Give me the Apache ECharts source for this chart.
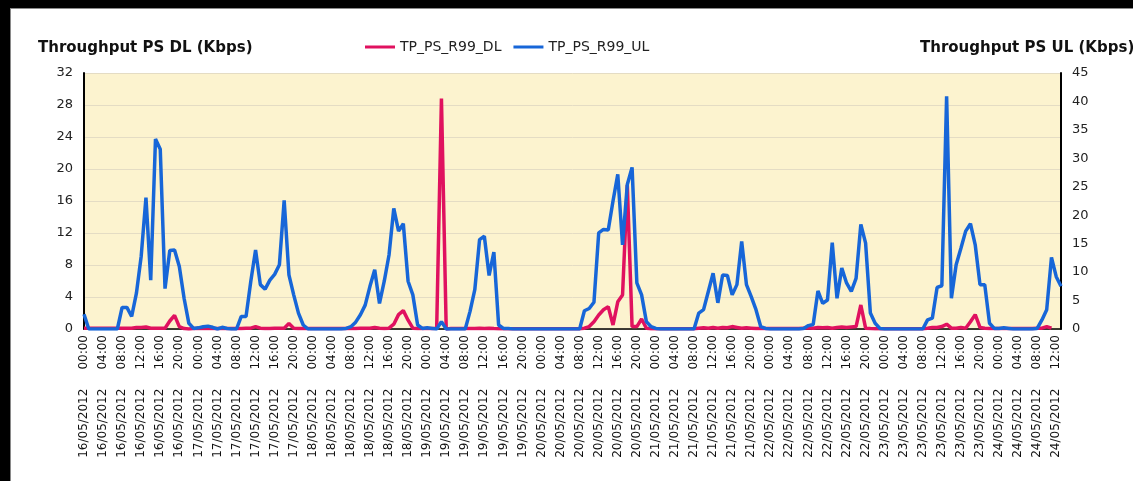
<!DOCTYPE html>
<html>
<head>
<meta charset="utf-8">
<title>Throughput PS</title>
<script src="https://cdn.jsdelivr.net/npm/echarts@6/dist/echarts.min.js"></script>
<style>
  html, body { margin: 0; padding: 0; background: #fff; overflow: hidden; }
  #chart { width: 1133px; height: 481px; }
  .edge { position: absolute; background: #000; pointer-events: none; }
  .inner { position: absolute; background: #8a8a8a; pointer-events: none; }
</style>
</head>
<body>
<div id="chart"></div>
<div class="edge" style="left:0;top:0;width:10px;height:481px"></div>
<div class="edge" style="left:0;top:0;width:1133px;height:8px"></div>
<div class="inner" style="left:10px;top:8px;width:1px;height:473px"></div>
<div class="inner" style="left:10px;top:8px;width:1123px;height:1px"></div>
<script>
// hourly samples, 16/05/2012 00:00 -> 24/05/2012 13:00
const days = ['16/05/2012', '17/05/2012', '18/05/2012', '19/05/2012', '20/05/2012',
  '21/05/2012', '22/05/2012', '23/05/2012', '24/05/2012']
const hours = ['00:00', '01:00', '02:00', '03:00', '04:00', '05:00', '06:00', '07:00',
  '08:00', '09:00', '10:00', '11:00', '12:00', '13:00', '14:00', '15:00',
  '16:00', '17:00', '18:00', '19:00', '20:00', '21:00', '22:00', '23:00']

// TP_PS_R99_DL (left axis, Kbps)
const dlValues = [
  0.1, 0.1, 0.1, 0.1, 0.1, 0.1, 0.1, 0.1, 0.1, 0.1, 0.1, 0.2, 0.2, 0.25, 0.1, 0.1, 0.1, 0.1, 1.0, 1.7, 0.3, 0.05, 0, 0.05,
  0.05, 0.05, 0.05, 0.05, 0.05, 0.05, 0.05, 0.05, 0.05, 0.05, 0.1, 0.1, 0.3, 0.1, 0.05, 0.05, 0.1, 0.1, 0.1, 0.7, 0.1, 0.05, 0.05, 0.05,
  0.05, 0.05, 0.05, 0.05, 0.05, 0.05, 0.05, 0.05, 0.05, 0.05, 0.1, 0.1, 0.1, 0.2, 0.1, 0.05, 0.1, 0.6, 1.8, 2.3, 1.1, 0.1, 0.05, 0.05,
  0.05, 0.05, 0.1, 28.8, 0, 0.05, 0.05, 0.05, 0.05, 0.05, 0.05, 0.1, 0.05, 0.1, 0.05, 0.03, 0.03, 0.03, 0.03, 0.03, 0.03, 0.03, 0.03, 0.03,
  0.03, 0.03, 0.03, 0.03, 0.03, 0.03, 0.03, 0.03, 0.03, 0.1, 0.3, 0.9, 1.75, 2.4, 2.8, 0.5, 3.4, 4.25, 18.0, 0.3, 0.3, 1.25, 0.1, 0.03,
  0.03, 0.03, 0.03, 0.03, 0.03, 0.03, 0.03, 0.03, 0.03, 0.1, 0.15, 0.1, 0.2, 0.1, 0.2, 0.15, 0.3, 0.2, 0.1, 0.15, 0.1, 0.05, 0.05, 0.05,
  0.05, 0.05, 0.05, 0.05, 0.05, 0.05, 0.05, 0.1, 0.15, 0.1, 0.2, 0.15, 0.2, 0.1, 0.2, 0.25, 0.2, 0.25, 0.3, 3.0, 0.1, 0.05, 0.03, 0.03,
  0.03, 0.03, 0.03, 0.03, 0.03, 0.03, 0.03, 0.03, 0.03, 0.1, 0.2, 0.2, 0.3, 0.6, 0.1, 0.1, 0.2, 0.1, 0.9, 1.8, 0.2, 0.1, 0.05, 0.05,
  0.05, 0.05, 0.05, 0.05, 0.05, 0.05, 0.05, 0.05, 0.1, 0.1, 0.3, 0.1
]

// TP_PS_R99_UL (right axis, Kbps)
const ulValues = [
  2.6, 0, 0, 0, 0, 0, 0, 0, 3.8, 3.8, 2.2, 6.3, 12.8, 23.1, 8.6, 33.4, 31.6, 7.1, 13.8, 13.9, 11.0, 5.4, 1.0, 0.1,
  0.2, 0.4, 0.5, 0.3, 0, 0.3, 0.1, 0, 0, 2.2, 2.2, 8.4, 13.9, 7.8, 7.0, 8.6, 9.6, 11.3, 22.6, 9.5, 6.0, 2.8, 0.7, 0,
  0, 0, 0, 0, 0, 0, 0, 0.1, 0.4, 1.2, 2.5, 4.2, 7.5, 10.4, 4.5, 8.4, 13.0, 21.2, 17.2, 18.5, 8.4, 6.0, 0.7, 0.1,
  0.2, 0.1, 0, 1.3, 0, 0, 0, 0, 0, 3.1, 6.9, 15.7, 16.3, 9.4, 13.5, 0.7, 0.1, 0.1, 0, 0, 0, 0, 0, 0,
  0, 0, 0, 0, 0, 0, 0, 0, 0, 3.2, 3.6, 4.7, 16.9, 17.5, 17.4, 22.5, 27.2, 14.8, 25.4, 28.4, 8.1, 6.0, 1.3, 0.4,
  0.1, 0, 0, 0, 0, 0, 0, 0, 0, 2.8, 3.4, 6.6, 9.8, 4.6, 9.5, 9.4, 6.0, 7.8, 15.4, 7.8, 5.7, 3.4, 0.4, 0.1,
  0, 0, 0, 0, 0, 0, 0, 0.1, 0.6, 0.8, 6.7, 4.5, 5.1, 15.2, 5.4, 10.7, 8.1, 6.6, 8.9, 18.4, 15.1, 2.8, 1.0, 0.1,
  0, 0, 0, 0, 0, 0, 0, 0, 0, 1.6, 1.9, 7.3, 7.6, 40.9, 5.4, 11.3, 14.2, 17.2, 18.5, 14.8, 7.8, 7.8, 1.0, 0.1,
  0.1, 0.2, 0.1, 0, 0, 0, 0, 0, 0.1, 1.6, 3.4, 12.6, 9.2, 7.5
]

const dlTicks = { min: 0, max: 32, interval: 4 }
const ulTicks = { min: 0, max: 45, interval: 5 }

const categories = []
days.forEach(d => hours.forEach(h => {
  if (categories.length < ulValues.length) categories.push(d + '     ' + h)
}))

const chart = echarts.init(document.getElementById('chart'))

chart.setOption({
  backgroundColor: '#fff',
  animation: false,
  title: [{
    text: 'Throughput PS DL (Kbps)',
    left: 38,
    top: 41,
    padding: 0,
    textStyle: { fontFamily: 'DejaVu Sans', fontSize: 15, fontWeight: 'bold', color: '#111' }
  }, {
    text: 'Throughput PS UL (Kbps)',
    left: 920,
    top: 41,
    padding: 0,
    textStyle: { fontFamily: 'DejaVu Sans', fontSize: 15, fontWeight: 'bold', color: '#111' }
  }],
  legend: {
    left: 365,
    top: 40,
    padding: 0,
    icon: 'rect',
    itemWidth: 30,
    itemHeight: 3,
    itemGap: 12,
    textStyle: { fontFamily: 'DejaVu Sans', fontSize: 14, color: '#222' },
    data: ['TP_PS_R99_DL', 'TP_PS_R99_UL']
  },
  grid: {
    left: 84,
    right: 72,
    top: 73,
    bottom: 152,
    show: true,
    backgroundColor: '#fcf3cf',
    borderWidth: 0
  },
  xAxis: {
    type: 'category',
    boundaryGap: false,
    data: categories,
    axisLine: { lineStyle: { color: '#000', width: 1.5 } },
    axisTick: { show: false },
    axisLabel: {
      interval: 3,
      rotate: 90,
      margin: 6,
      fontFamily: 'DejaVu Sans',
      fontSize: 12,
      color: '#111'
    }
  },
  yAxis: [{
    type: 'value',
    min: dlTicks.min,
    max: dlTicks.max,
    interval: dlTicks.interval,
    axisLine: { show: true, lineStyle: { color: '#000', width: 2 } },
    axisTick: { show: false },
    axisLabel: { margin: 11, fontFamily: 'DejaVu Sans', fontSize: 13, color: '#222' },
    splitLine: { lineStyle: { color: '#e4dcc4', width: 1 } }
  }, {
    type: 'value',
    min: ulTicks.min,
    max: ulTicks.max,
    interval: ulTicks.interval,
    axisLine: { show: true, lineStyle: { color: '#000', width: 2 } },
    axisTick: { show: false },
    axisLabel: { margin: 11, fontFamily: 'DejaVu Sans', fontSize: 13, color: '#222' },
    splitLine: { show: false }
  }],
  series: [{
    name: 'TP_PS_R99_DL',
    type: 'line',
    yAxisIndex: 0,
    data: dlValues,
    showSymbol: false,
    color: '#e0115f',
    lineStyle: { width: 3.5, color: '#e0115f' }
  }, {
    name: 'TP_PS_R99_UL',
    type: 'line',
    yAxisIndex: 1,
    data: ulValues,
    showSymbol: false,
    color: '#1766d8',
    lineStyle: { width: 3.5, color: '#1766d8' }
  }]
})
</script>
</body>
</html>
